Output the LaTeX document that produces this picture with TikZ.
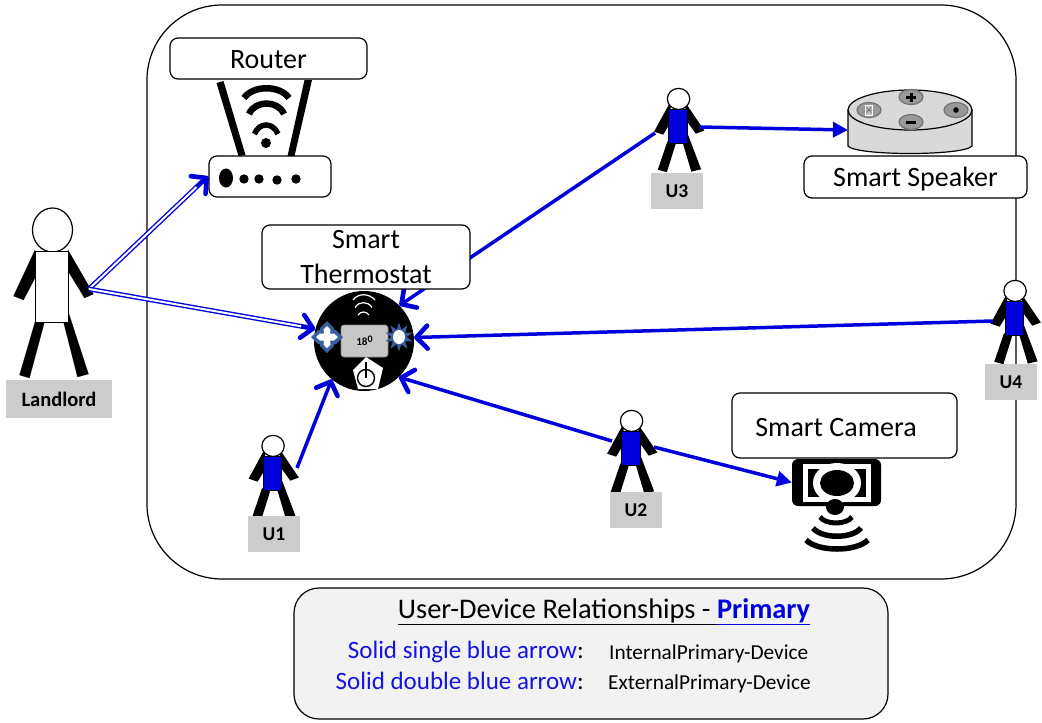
\documentclass[tikz,border=0pt]{standalone}
\usepackage{fontspec}
\setmainfont{Carlito}
\usetikzlibrary{arrows.meta,calc,shapes.geometric}
\definecolor{lblgray}{HTML}{CDCCCC}
\definecolor{legbg}{HTML}{F2F2F2}
\definecolor{steel}{HTML}{3A5F9F}
\definecolor{ublue}{RGB}{0,0,220}
\definecolor{txtblue}{RGB}{20,20,225}
\tikzset{
  boxlabel/.style={draw=black,fill=white,line width=1.2pt,rounded corners=8pt,inner sep=0pt,align=center,font=\fontsize{28}{35}\selectfont},
  taglabel/.style={fill=lblgray,inner sep=0pt,font=\bfseries\fontsize{19.5}{22}\selectfont},
  barbtip/.style={-{Straight Barb[length=11pt,width=23pt,line width=4.6pt,round]}},
  singlearrow/.style={draw=ublue,line width=3.5pt,barbtip},
  filledarrow/.style={draw=ublue,line width=3.5pt,-{Stealth[length=15pt,width=15pt,inset=0pt]}},
  doubleline/.style={draw=ublue,line width=1.4pt,double=white,double distance=2pt},
  doubletip/.style={draw=ublue,line width=3.5pt,barbtip},
  wave/.style={draw=black,line cap=butt},
  thermwave/.style={draw=white,line width=1.2pt},
}
% x, y, xscale, yscale, body fill, limb stroke width
\newcommand{\personfig}[6]{%
 \begin{scope}[shift={(#1,#2)},xscale=#3,yscale=#4]
  \filldraw[black,line width=#6] (-16.5,-1) -- (-38,45) -- (-28,49) -- (-16.5,27) -- cycle;
  \filldraw[black,line width=#6] (16.5,-1) -- (42,43) -- (33,47) -- (16.5,20) -- cycle;
  \filldraw[black,line width=#6] (-16.5,71) -- (-32,124) -- (-22,127) -- (-7,71) -- cycle;
  \filldraw[black,line width=#6] (12,71) -- (26,126) -- (37,123) -- (16.5,60) -- cycle;
  \draw[line width=1.2pt,fill=white] (1,-21) ellipse [x radius=20,y radius=22];
  \draw[line width=1pt,fill=#5] (-16.5,0) rectangle (16.5,71);
 \end{scope}}
\begin{document}
\begin{tikzpicture}[x=1pt,y=-1pt]
\useasboundingbox (0,0) rectangle (1042,723);
% main frame
\node[draw=black,fill=white,line width=1.2pt,rounded corners=75pt,minimum width=869pt,minimum height=574pt,inner sep=0pt] (frame) at (581.5,292) {};
% people
\personfig{51.5}{251}{1}{1}{white}{.1pt}
\personfig{272.5}{456}{.56}{.48}{ublue}{3.6pt}
\personfig{631}{431}{.56}{.48}{ublue}{3.6pt}
\personfig{678}{109}{.56}{.48}{ublue}{3.6pt}
\personfig{1014.5}{301}{.56}{.48}{ublue}{3.6pt}
\node[taglabel,minimum width=106pt,minimum height=38pt,font=\bfseries\fontsize{20.5}{24}\selectfont] (tagL) at (59,399) {Landlord};
\node[taglabel,minimum width=52pt,minimum height=36pt] (tag1) at (274,534) {U1\hspace{4pt}};
\node[taglabel,minimum width=52pt,minimum height=36pt] (tag2) at (636,510) {U2\hspace{6pt}};
\node[taglabel,minimum width=52pt,minimum height=36pt] (tag3) at (677,191) {U3\hspace{6pt}};
\node[taglabel,minimum width=52pt,minimum height=36pt] (tag4) at (1011,382) {U4\hspace{4pt}};
\coordinate (landhand) at (89,289);
\coordinate (u1hand) at (297,468);
\coordinate (u2left) at (612,441);
\coordinate (u2right) at (654,447);
\coordinate (u3left) at (655,133);
\coordinate (u3right) at (700,127);
\coordinate (u4hand) at (993,321);
% router
\fill[black] (216.5,83) -- (223.5,81) -- (245.5,155) -- (238.5,156) -- cycle;
\fill[black] (304.5,80) -- (312,80) -- (294.5,156) -- (287.5,156) -- cycle;
\draw[wave,line width=6.5pt] (244,98) .. controls (253,85) and (280,85) .. (289,98);
\draw[wave,line width=6.5pt] (249,114) .. controls (255,100) and (278,100) .. (284,114);
\draw[wave,line width=5.5pt] (254.5,134) .. controls (259,122) and (273,122) .. (278,134);
\fill[black] (266,143) circle [radius=5];
\node[draw=black,fill=white,line width=1.2pt,rounded corners=8pt,minimum width=122pt,minimum height=41pt,inner sep=0pt] (rbase) at (270,176.5) {};
\fill[black] (226,178) ellipse [x radius=7,y radius=9.5];
\fill[black] (244,179) circle [radius=4.7] (259,179) circle [radius=4.7] (277,180) circle [radius=4.7] (296,179) circle [radius=4.7];
\node[boxlabel,minimum width=197pt,minimum height=41pt] (lrouterbox) at (268.5,58.5) {};
\node[font=\fontsize{28}{31}\selectfont] (lrouter) at (268.5,60) {Router};
% thermostat
\node[circle,fill=black,minimum size=100pt,inner sep=0pt] (therm) at (364,341) {};
\node[fill=black!22,draw=black!45,line width=.6pt,rounded corners=3pt,minimum width=47pt,minimum height=32pt,inner sep=0pt,font=\bfseries\fontsize{11}{13}\selectfont] (tscreen) at (364.5,341) {18\raisebox{3pt}{\fontsize{10}{11}\selectfont 0}};
\draw[thermwave] (353,300) .. controls (358,293) and (369,293) .. (375,300);
\draw[thermwave] (355,307.5) .. controls (359,301) and (368,301) .. (372,307.5);
\draw[thermwave] (358,315) .. controls (361,311) and (366,311) .. (369,315);
\fill[white] (366,357) -- (383,368) -- (378,389) -- (358,389) -- (353,370) -- cycle;
\draw[black,line width=1.4pt] (366,378) circle [radius=8.5];
\draw[black,line width=1.6pt] (366,362) -- (366,378);
% plus icon
\fill[steel] (327,321) -- (334,328) -- (334,330) -- (336,330) -- (343,337) -- (336,344) -- (334,344) -- (334,346) -- (327,353) -- (320,346) -- (320,344) -- (318,344) -- (311,337) -- (318,330) -- (320,330) -- (320,328) -- cycle;
\fill[white] (327,326) -- (330.5,329.5) -- (330,333.5) -- (334,333.5) -- (338,337) -- (334,340.5) -- (330,340.5) -- (330.5,344.5) -- (327,348) -- (323.5,344.5) -- (324,340.5) -- (320,340.5) -- (316,337) -- (320,333.5) -- (324,333.5) -- (323.5,329.5) -- cycle;
\node[star,star points=10,star point ratio=1.9,fill=steel,minimum size=29pt,inner sep=0pt] (sun) at (399,337) {};
\fill[white] (399,337) ellipse [x radius=6,y radius=7];
% speaker
\draw[line width=1.2pt,fill=black!15] (848,110) -- (848,146) .. controls (856,156) and (964,156) .. (972,146) -- (972,110) -- cycle;
\draw[line width=1.2pt,fill=black!15] (910,110) ellipse [x radius=62,y radius=20];
\foreach \bx/\by in {911/97,911/122,956/110,869/110}{
  \draw[black!55,line width=1.2pt,fill=black!40] (\bx,\by) ellipse [x radius=12,y radius=7.5];
}
\draw[black,line width=3pt] (906,97) -- (916,97) (911,92.5) -- (911,101.5);
\draw[black,line width=3pt] (906,122.5) -- (916,122.5);
\fill[black] (956,110) circle [radius=2.8];
\draw[white,line width=1pt,fill=black!25] (865.5,105) rectangle (872.5,115);
\draw[black!60,line width=.5pt] (866.5,107) -- (871.5,113) (871.5,107) -- (866.5,113) (865.5,110) -- (872.5,110);
\node[boxlabel,minimum width=223pt,minimum height=42pt] (lspeakerbox) at (915.5,177) {};
\node[font=\fontsize{28}{31}\selectfont] (lspeaker) at (915.5,179.5) {Smart Speaker};
% camera
\node[fill=black,rounded corners=6pt,minimum width=89pt,minimum height=47pt,inner sep=0pt] (cam) at (836.5,482.5) {};
\fill[white] (803,464) rectangle (871,502);
\fill[black] (808,469) rectangle (866,497);
\fill[white] (837,483) ellipse [x radius=24,y radius=20];
\fill[black] (837,483) ellipse [x radius=17,y radius=13];
\fill[black] (835,507) ellipse [x radius=9,y radius=8];
\draw[wave,line width=5pt] (820,517) .. controls (826,525) and (846,525) .. (852,517);
\draw[wave,line width=5.5pt] (813,528) .. controls (822,539) and (852,539) .. (861,528);
\draw[wave,line width=5.5pt] (806,540) .. controls (818,552) and (856,552) .. (868,540);
\node[boxlabel,minimum width=225pt,minimum height=65pt] (lcamera) at (844.5,425.5) {};
\node[font=\fontsize{28}{31}\selectfont] (lcameratxt) at (836,427.5) {Smart Camera};
% connectors
\draw[doubleline] (landhand) -- ($(rbase.west)+(-6,5)$);
\draw[doubletip] ($(rbase.west)+(-12,10)$) -- (rbase.west);
\draw[doubleline] (landhand) -- ($(therm.166)+(-7,-1.3)$);
\draw[doubletip] ($(therm.166)+(-14,-2.6)$) -- (therm.166);
\draw[singlearrow] (u1hand) -- (therm.230);
\draw[singlearrow] (u2left) -- (therm.-46);
\draw[filledarrow] (u2right) -- (cam.west);
\draw[singlearrow] (u3left) -- (therm.45);
\coordinate (spk) at (848,130);
\draw[filledarrow] (u3right) -- (spk);
\draw[singlearrow] (u4hand) -- (therm.4);
\node[boxlabel,minimum width=208pt,minimum height=64pt] (ltherm) at (366,257) {Smart\\Thermostat};
% legend
\node[draw=black,fill=legbg,line width=1.2pt,rounded corners=25pt,minimum width=594pt,minimum height=131pt,inner sep=0pt] (legend) at (591,653.5) {};
\node[font=\fontsize{28.4}{32}\selectfont,inner sep=0pt] (ltitle) at (604,612) {\underline{User-Device Relationships - }\textcolor{ublue}{\underline{\textbf{Primary}}}};
\node[font=\fontsize{25}{29}\selectfont,inner sep=0pt,anchor=east,text=txtblue] (lsingle) at (584,652) {Solid single blue arrow\textcolor{black}{:}};
\node[font=\fontsize{25}{29}\selectfont,inner sep=0pt,anchor=east,text=txtblue] (ldouble) at (584,681) {Solid double blue arrow\textcolor{black}{:}};
\node[font=\fontsize{21.3}{25}\selectfont,inner sep=0pt,anchor=west] (linternal) at (609,654) {InternalPrimary-Device};
\node[font=\fontsize{21.3}{25}\selectfont,inner sep=0pt,anchor=west] (lexternal) at (608,684) {ExternalPrimary-Device};
\end{tikzpicture}
\end{document}
